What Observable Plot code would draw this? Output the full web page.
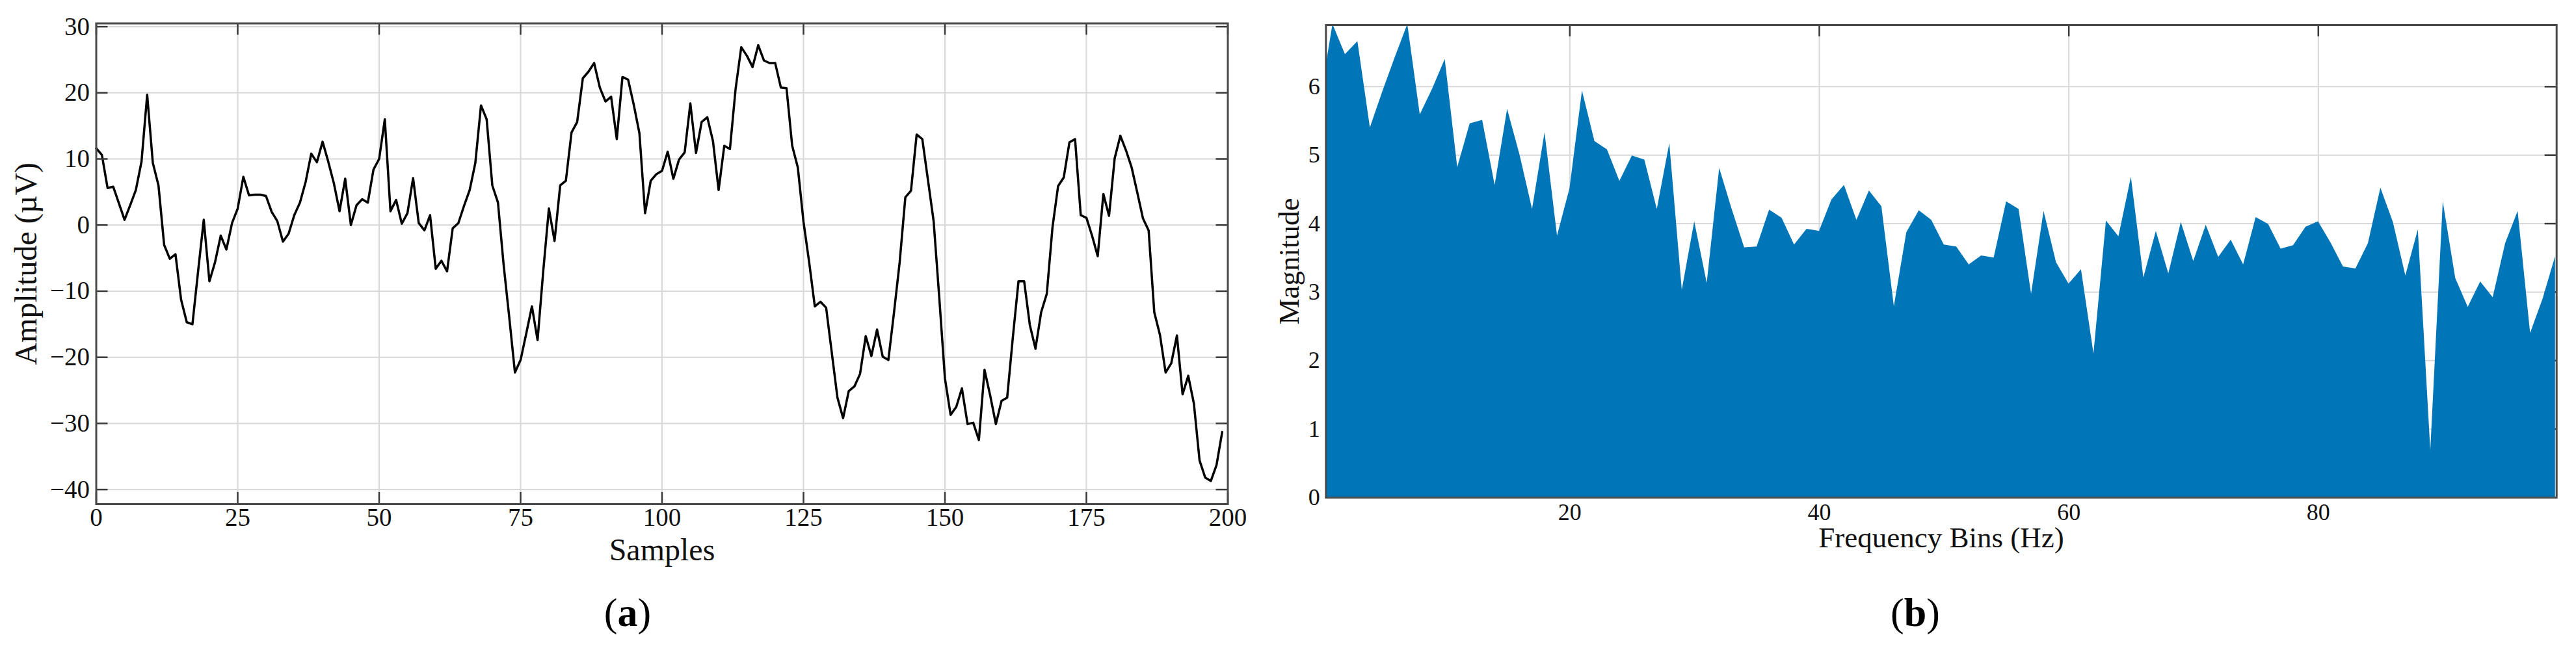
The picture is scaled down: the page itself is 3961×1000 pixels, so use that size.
<!DOCTYPE html>
<html><head><meta charset="utf-8">
<script src="https://cdn.jsdelivr.net/npm/d3@7"></script>
<script src="https://cdn.jsdelivr.net/npm/@observablehq/plot@0.6"></script>
<style>
html,body{margin:0;padding:0;background:#fff;}
#wrap{display:flex;width:3961px;height:1000px;}
.panel{position:relative;height:1000px;}
.panel svg{display:block;overflow:visible;}
.cap{position:absolute;top:942px;transform:translate(-50%,-50%);font-family:"Liberation Serif","Times New Roman",serif;font-size:62px;line-height:1;color:#000;white-space:nowrap;}
</style></head><body><div id="wrap"></div>
<script>
const amplitude = [
11.6, 10.6, 5.6, 5.8, 3.3, 0.8, 3.0, 5.3, 9.6, 19.7,
9.4, 6.0, -3.0, -5.1, -4.4, -11.3, -14.7, -15.0, -7.0, 0.8,
-8.5, -5.6, -1.6, -3.7, 0.3, 2.5, 7.3, 4.5, 4.6, 4.6,
4.4, 2.0, 0.6, -2.5, -1.3, 1.5, 3.4, 6.5, 10.8, 9.5,
12.6, 9.6, 6.3, 2.1, 7.0, 0.0, 3.0, 3.9, 3.4, 8.4,
10.0, 16.0, 2.1, 3.8, 0.2, 1.8, 7.1, 0.3, -0.8, 1.5,
-6.6, -5.4, -7.0, -0.5, 0.3, 2.9, 5.3, 9.4, 18.1, 16.0,
6.0, 3.4, -6.0, -14.0, -22.3, -20.4, -16.4, -12.3, -17.4, -7.0,
2.5, -2.4, 6.0, 6.7, 14.0, 15.6, 22.2, 23.2, 24.5, 20.8,
18.7, 19.4, 13.0, 22.4, 22.0, 18.2, 13.9, 1.8, 6.7, 7.7,
8.2, 11.1, 7.0, 9.9, 11.0, 18.4, 10.9, 15.6, 16.3, 12.7,
5.3, 12.0, 11.5, 20.6, 26.9, 25.6, 23.9, 27.2, 24.9, 24.5,
24.5, 20.8, 20.7, 12.0, 8.7, 0.5, -5.6, -12.3, -11.6, -12.5,
-19.3, -26.1, -29.2, -25.1, -24.4, -22.5, -16.8, -19.8, -15.8, -19.9,
-20.4, -13.2, -5.6, 4.2, 5.2, 13.7, 13.0, 6.8, 0.6, -11.0,
-23.2, -28.7, -27.5, -24.7, -30.1, -29.9, -32.5, -21.9, -25.8, -30.1,
-26.6, -26.1, -17.0, -8.5, -8.5, -15.1, -18.7, -13.2, -10.4, -0.4,
5.9, 7.2, 12.5, 13.0, 1.5, 1.1, -1.6, -4.7, 4.7, 1.4,
10.1, 13.5, 11.3, 8.7, 4.9, 1.0, -0.8, -13.2, -16.6, -22.3,
-20.9, -16.7, -25.6, -22.8, -27.0, -35.6, -38.2, -38.7, -36.3, -31.3
];
const magnitude = [
5.8, 6.91, 6.47, 6.66, 5.40, 5.93, 6.43, 6.91, 5.59, 5.97,
6.40, 4.82, 5.46, 5.51, 4.56, 5.67, 5.0, 4.21, 5.33, 3.82,
4.51, 5.94, 5.20, 5.08, 4.62, 4.99, 4.93, 4.21, 5.17, 3.03,
4.03, 3.13, 4.81, 4.21, 3.65, 3.66, 4.20, 4.08, 3.69, 3.92,
3.89, 4.35, 4.56, 4.05, 4.48, 4.25, 2.79, 3.87, 4.19, 4.05,
3.69, 3.66, 3.40, 3.53, 3.50, 4.32, 4.21, 2.97, 4.18, 3.43,
3.12, 3.33, 2.10, 4.04, 3.81, 4.68, 3.21, 3.89, 3.27, 4.02,
3.45, 3.98, 3.51, 3.76, 3.40, 4.09, 3.99, 3.63, 3.68, 3.95,
4.03, 3.72, 3.37, 3.34, 3.71, 4.52, 4.02, 3.24, 3.91, 0.69,
4.32, 3.20, 2.78, 3.15, 2.92, 3.71, 4.18, 2.40, 2.90, 3.52
];
const sampleTicks = [0, 25, 50, 75, 100, 125, 150, 175, 200];
const ampTicks = [-40, -30, -20, -10, 0, 10, 20, 30];
const freqTicks = [20, 40, 60, 80];
const magTicks = [0, 1, 2, 3, 4, 5, 6];

const FONT = '"Liberation Serif", "Times New Roman", serif';
const sig = amplitude.map((v, i) => ({sample: i, amp: v}));
const spec = magnitude.map((v, i) => ({bin: i, mag: v}));

const GRID = {stroke: "#d8d8d8", strokeOpacity: 1, strokeWidth: 2};
const TICK = {stroke: "#3a3a3a", strokeWidth: 2.5};
const TL = 18;
const fmt = d3.format("d");

// left panel
const LW = 1920, LH = 880, LMT = 35.5, LMB = 105, LML = 147.5, LMR = 32.5;
const lfw = LW - LML - LMR, lfh = LH - LMT - LMB;
const left = Plot.plot({
  width: LW, height: LH, marginTop: LMT, marginBottom: LMB, marginLeft: LML, marginRight: LMR,
  style: {fontFamily: FONT, background: "white", color: "#111"},
  x: {domain: [0, 200]},
  y: {domain: [-42.2, 30.5]},
  marks: [
    Plot.gridX(sampleTicks, GRID),
    Plot.gridY(ampTicks, GRID),
    Plot.line(sig, {x: "sample", y: "amp", stroke: "#000", strokeWidth: 3.5}),
    Plot.ruleX(sampleTicks, {insetTop: lfh - TL, ...TICK}),
    Plot.ruleX(sampleTicks, {insetBottom: lfh - TL, ...TICK}),
    Plot.ruleY(ampTicks, {insetRight: lfw - TL, ...TICK}),
    Plot.ruleY(ampTicks, {insetLeft: lfw - TL, ...TICK}),
    Plot.frame({stroke: "#4a4a4a", strokeWidth: 3}),
    Plot.axisX(sampleTicks, {tickSize: 0, tickPadding: 6, fontSize: 39, label: null, tickFormat: fmt}),
    Plot.axisY(ampTicks, {tickSize: 0, tickPadding: 10, fontSize: 39, label: null, tickFormat: fmt}),
    Plot.text(["Samples"], {frameAnchor: "bottom", dy: 71, lineAnchor: "middle", textAnchor: "middle", fontSize: 48, fill: "#111"}),
    Plot.text(["Amplitude (µV)"], {frameAnchor: "left", dx: -107.5, rotate: -90, lineAnchor: "middle", textAnchor: "middle", fontSize: 48, fill: "#111"})
  ]
});

// right panel
const RW = 2041, RH = 880, RMT = 38, RMB = 115, RML = 118.3, RMR = 30.3;
const rfw = RW - RML - RMR, rfh = RH - RMT - RMB;
const right = Plot.plot({
  width: RW, height: RH, marginTop: RMT, marginBottom: RMB, marginLeft: RML, marginRight: RMR,
  style: {fontFamily: FONT, background: "white", color: "#111"},
  x: {domain: [0.45, 99.1]},
  y: {domain: [0, 6.9]},
  marks: [
    Plot.gridX(freqTicks, GRID),
    Plot.gridY(magTicks, GRID),
    Plot.ruleX(freqTicks, {insetTop: rfh - TL, ...TICK}),
    Plot.ruleX(freqTicks, {insetBottom: rfh - TL, ...TICK}),
    Plot.ruleY(magTicks, {insetRight: rfw - TL, ...TICK}),
    Plot.ruleY(magTicks, {insetLeft: rfw - TL, ...TICK}),
    Plot.areaY(spec, {x: "bin", y: "mag", fill: "#0076B8", clip: true}),
    Plot.frame({stroke: "#4a4a4a", strokeWidth: 3}),
    Plot.axisX(freqTicks, {tickSize: 0, tickPadding: 9, fontSize: 36, label: null, tickFormat: fmt}),
    Plot.axisY(magTicks, {tickSize: 0, tickPadding: 9, fontSize: 36, label: null, tickFormat: fmt}),
    Plot.text(["Frequency Bins (Hz)"], {frameAnchor: "bottom", dy: 62, lineAnchor: "middle", textAnchor: "middle", fontSize: 45, fill: "#111"}),
    Plot.text(["Magnitude"], {frameAnchor: "left", dx: -56, rotate: -90, lineAnchor: "middle", textAnchor: "middle", fontSize: 45, fill: "#111"})
  ]
});

function panel(svg, w, capX, capHtml) {
  const d = document.createElement("div");
  d.className = "panel";
  d.style.width = w + "px";
  d.appendChild(svg);
  const c = document.createElement("div");
  c.className = "cap";
  c.style.left = capX + "px";
  c.innerHTML = capHtml;
  d.appendChild(c);
  return d;
}
const wrap = document.getElementById("wrap");
wrap.appendChild(panel(left, LW, 965, "(<b>a</b>)"));
wrap.appendChild(panel(right, RW, 1025, "(<b>b</b>)"));
</script></body></html>
